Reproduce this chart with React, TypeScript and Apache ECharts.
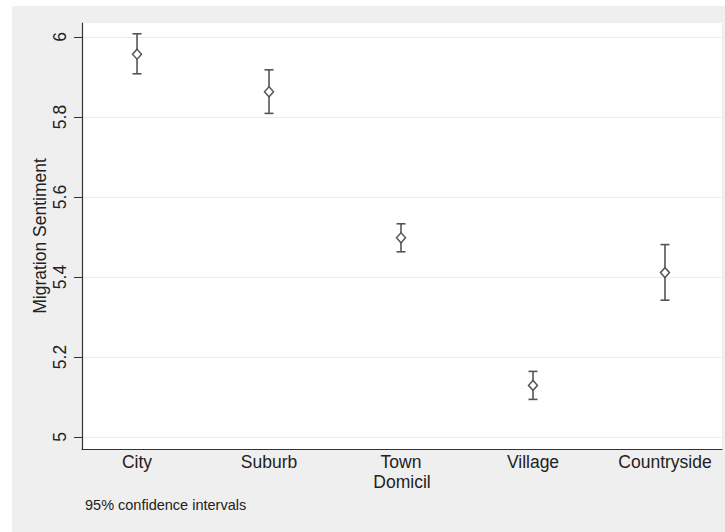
import React, { useEffect, useRef } from "react";
import * as echarts from "echarts";

const categories = ["City", "Suburb", "Town", "Village", "Countryside"];
const means = [5.957, 5.863, 5.498, 5.129, 5.411];
const lower = [5.908, 5.809, 5.463, 5.094, 5.342];
const upper = [6.008, 5.918, 5.533, 5.164, 5.481];
const yTicks = [5, 5.2, 5.4, 5.6, 5.8, 6];
const xTicks = [1, 2, 3, 4, 5];
const note = "95% confidence intervals";

const FONT = "'Liberation Sans', Arial, Helvetica, sans-serif";
const INK = "#555555";

export default function App() {
  const ref = useRef<HTMLDivElement>(null);
  useEffect(() => {
    if (!ref.current) return;
    const chart = echarts.init(ref.current, null, { renderer: "svg" });
    const ciData = categories.map((_, i) => [i + 1, lower[i], upper[i]]);
    const ptData = categories.map((_, i) => [i + 1, means[i]]);
    chart.setOption({
      animation: false,
      backgroundColor: "#ffffff",
      textStyle: { fontFamily: FONT },
      graphic: [
        {
          type: "rect",
          z: -10,
          silent: true,
          shape: { x: 12, y: 6, width: 713, height: 526 },
          style: { fill: "#efefef" },
        },
        {
          type: "text",
          x: 85,
          y: 505,
          style: {
            text: note,
            fontSize: 14.5,
            fontFamily: FONT,
            fill: "#222",
            textVerticalAlign: "middle",
          },
        },
      ],
      grid: {
        left: 82,
        top: 23,
        right: 3,
        bottom: 83,
        show: true,
        backgroundColor: "#ffffff",
        borderWidth: 0,
      },
      xAxis: {
        type: "value",
        min: 0.583,
        max: 5.432,
        name: "Domicil",
        nameLocation: "middle",
        nameGap: 24,
        nameMoveOverlap: false,
        nameTextStyle: { fontSize: 17.5, color: "#222", fontFamily: FONT },
        axisLine: { show: true, onZero: false, lineStyle: { color: "#333", width: 1.2 } },
        axisTick: { show: false },
        splitLine: { show: false },
        axisLabel: {
          customValues: xTicks,
          fontSize: 17.5,
          color: "#222",
          margin: 4,
          fontFamily: FONT,
          formatter: (v: number) => categories[Math.round(v) - 1] ?? "",
        },
      },
      yAxis: {
        type: "value",
        min: 4.97,
        max: 6.035,
        name: "Migration Sentiment",
        nameLocation: "middle",
        nameGap: 33,
        nameMoveOverlap: false,
        nameTextStyle: { fontSize: 17.5, color: "#222", fontFamily: FONT },
        axisLine: { show: true, onZero: false, lineStyle: { color: "#333", width: 1.2 } },
        axisTick: {
          show: true,
          customValues: yTicks,
          length: 8,
          lineStyle: { color: "#333" },
        },
        splitLine: { show: true, lineStyle: { color: "#ececec", width: 1 } },
        axisLabel: {
          customValues: yTicks,
          rotate: 90,
          fontSize: 17.5,
          color: "#222",
          margin: 13,
          fontFamily: FONT,
          formatter: (v: number) => String(Math.round(v * 10) / 10),
        },
      },
      series: [
        {
          type: "custom",
          data: ciData,
          encode: { x: 0, y: [1, 2] },
          renderItem: (params: any, api: any) => {
            const x = api.value(0);
            const lo = api.coord([x, api.value(1)]);
            const hi = api.coord([x, api.value(2)]);
            const hw = 4.5;
            const style = { stroke: INK, lineWidth: 1.6, fill: "none" };
            return {
              type: "group",
              children: [
                { type: "line", shape: { x1: lo[0], y1: lo[1], x2: hi[0], y2: hi[1] }, style },
                { type: "line", shape: { x1: lo[0] - hw, y1: lo[1], x2: lo[0] + hw, y2: lo[1] }, style },
                { type: "line", shape: { x1: hi[0] - hw, y1: hi[1], x2: hi[0] + hw, y2: hi[1] }, style },
              ],
            };
          },
          z: 2,
        },
        {
          type: "scatter",
          data: ptData,
          symbol: "diamond",
          symbolSize: [9, 10],
          itemStyle: { color: "#ffffff", borderColor: INK, borderWidth: 1.5, opacity: 1 },
          z: 3,
        },
      ],
    });
    return () => chart.dispose();
  }, []);
  return (
    <div
      ref={ref}
      style={{ position: "fixed", left: 0, top: 0, width: 725, height: 532 }}
    />
  );
}
